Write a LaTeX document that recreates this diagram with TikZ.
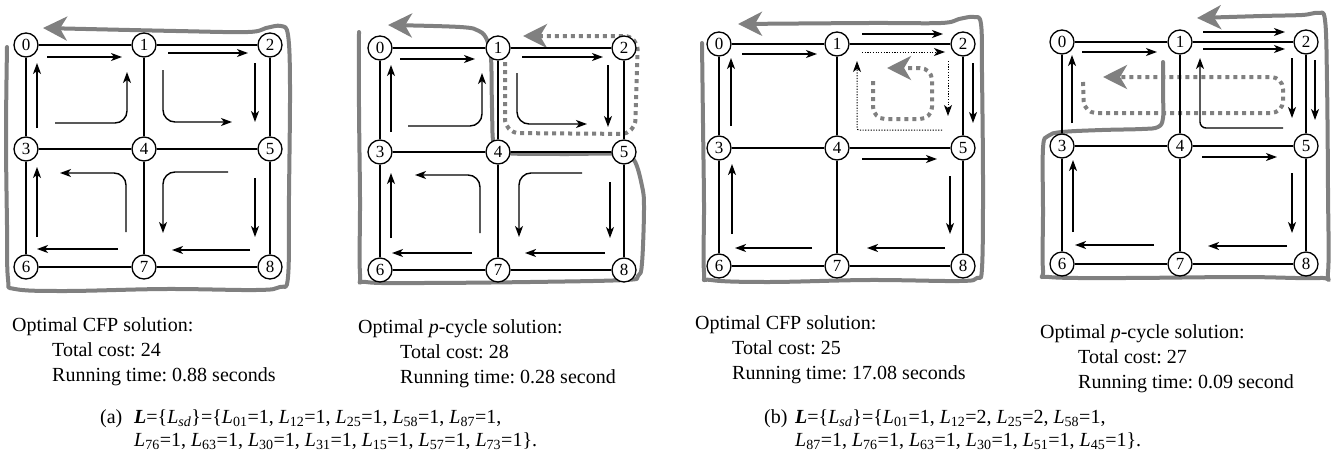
\documentclass[tikz,border=0pt]{standalone}
\usepackage{fontspec}
\setmainfont{Liberation Serif}
\usetikzlibrary{arrows.meta}
\frenchspacing

\newcommand{\Lv}[1]{\textit{L}\textsubscript{#1}}
% nine nodes and the twelve links of one grid, names #10 ... #18
\newcommand{\drawgrid}[1]{%
  \foreach \i/\px/\py in {0/0/0,1/118/0,2/244/0,3/0/104,4/118/104,5/244/104,6/0/222,7/118/222,8/244/222}
    \node[vertex] (#1\i) at (\px,\py) {\i};
  \foreach \ea/\eb in {0/1,1/2,3/4,4/5,6/7,7/8,0/3,3/6,1/4,4/7,2/5,5/8}
    \draw[gridedge] (#1\ea) -- (#1\eb);
}

\begin{document}
\begin{tikzpicture}[x=1pt,y=-1pt,
  vertex/.style={circle,draw,line width=1.3pt,fill=white,inner sep=0pt,minimum size=24pt,font=\fontsize{17}{17}\selectfont},
  gridedge/.style={line width=1.8pt},
  demand/.style={line width=1.4pt,-{Stealth[length=11pt,width=8pt,inset=3pt]}},
  demanddot/.style={demand,line width=1pt,dash pattern=on 1.2pt off 1.5pt},
  recov/.style={black!50,line width=4pt,line join=round,line cap=round,-{Stealth[length=24pt,width=24pt,inset=7pt]}},
  recovdot/.style={recov,line cap=butt,dash pattern=on 4pt off 4pt},
  info/.style={anchor=base west,inner sep=0pt,font=\fontsize{20}{24}\selectfont\frenchspacing}]
\useasboundingbox (0,0) rectangle (1337,455);

% (a) optimal CFP solution
\begin{scope}[shift={(26,45)}]
\draw[recov] plot[smooth,tension=0.6] coordinates {(-19,2) (-20,90) (-19,180) (-18,234) (-11,244) (40,246) (140,244) (230,245) (254,242) (262,232) (263,150) (264,40) (262,-10) (255,-19) (240,-17) (222,-13) (150,-14) (17,-17)};
\drawgrid{a}
\draw[demand] (21,12) -- (96,12);
\draw[demand] (11,83) -- (11,18);
\draw[demand,rounded corners=12pt] (29,78) -| (101,27);
\draw[demand] (142,8) -- (222,8);
\draw[demand,rounded corners=12pt] (137,25) |- (206,77);
\draw[demand] (229,18) -- (229,77);
\draw[demand,rounded corners=12pt] (100,187) |- (34,128);
\draw[demand] (11,192) -- (11,122);
\draw[demand] (92,204) -- (11,204);
\draw[demand,rounded corners=12pt] (202,127) -| (137,188);
\draw[demand] (229,133) -- (229,192);
\draw[demand] (224,205) -- (146,205);
\end{scope}

% (a) optimal p-cycle solution
\begin{scope}[shift={(380,48)}]
\draw[recov] plot[smooth,tension=0.6] coordinates {(-21,-16) (-21,60) (-20,150) (-20,226) (-14,234) (40,235) (150,234) (245,232) (258,228) (262,215) (264,160) (262,138) (254,112) (240,106) (180,106) (125,105) (114,98) (112,60) (111,10) (107,-8) (99,-17) (80,-21) (8,-23)};
\draw[recovdot,rounded corners=14pt] (125,14) -- (125,85) -- (255,86) -- (258,-12) -- (143,-12);
\drawgrid{b}
\draw[demand] (20,11) -- (95,11);
\draw[demand] (11,84) -- (11,17);
\draw[demand,rounded corners=12pt] (28,78) -| (102,25);
\draw[demand] (142,9) -- (223,9);
\draw[demand,rounded corners=12pt] (137,25) |- (207,76);
\draw[demand] (228,17) -- (228,79);
\draw[demand,rounded corners=12pt] (100,185) |- (35,127);
\draw[demand] (11,190) -- (11,125);
\draw[demand] (92,205) -- (12,205);
\draw[demand,rounded corners=12pt] (202,125) -| (139,189);
\draw[demand] (230,134) -- (230,190);
\draw[demand] (225,205) -- (145,205);
\end{scope}

% (b) optimal CFP solution
\begin{scope}[shift={(719,44)}]
\draw[recov] plot[smooth,tension=0.6] coordinates {(-17,-1) (-16,80) (-15,160) (-15,228) (-8,236) (50,238) (150,236) (240,237) (258,234) (263,224) (264,140) (263,30) (262,-20) (255,-27) (240,-25) (222,-21) (150,-21) (19,-20)};
\draw[recovdot,rounded corners=12pt] (154,37) -- (154,75) -- (213,75) -- (213,24) -- (168,24);
\drawgrid{c}
\draw[demand] (23,10) -- (98,10);
\draw[demand] (12,82) -- (12,14);
\draw[demand] (143,-10) -- (224,-10);
\draw[demanddot] (143,8) -- (226,8);
\draw[demanddot] (229,17) -- (229,72);
\draw[demanddot,rounded corners=2pt] (223,86) -| (138,17);
\draw[demand] (254,19) -- (254,79);
\draw[demand] (143,115) -- (218,115);
\draw[demand] (231,132) -- (231,190);
\draw[demand] (226,204) -- (148,204);
\draw[demand] (93,204) -- (16,204);
\draw[demand] (13,190) -- (13,120);
\end{scope}

% (b) optimal p-cycle solution
\begin{scope}[shift={(1062,42)}]
\draw[recov] plot[smooth,tension=0.6] coordinates {(101,20) (101,50) (101,76) (96,85) (80,87) (40,88) (0,90) (-14,94) (-19,106) (-19,170) (-19,228) (-13,235) (60,236) (180,235) (258,236) (266,230) (266,150) (265,40) (263,-22) (256,-29) (240,-27) (200,-26) (135,-24)};
\draw[recovdot,rounded corners=12pt] (21,40) -- (22,71) -- (221,71) -- (221,35) -- (41,35);
\drawgrid{d}
\draw[demand] (20,10) -- (95,10);
\draw[demand] (10,81) -- (10,13);
\draw[demand] (141,-10) -- (223,-10);
\draw[demand] (141,7) -- (223,7);
\draw[demand] (230,16) -- (230,76);
\draw[demand] (253,18) -- (253,78);
\draw[demand,rounded corners=6pt] (221,86) -| (138,16);
\draw[demand] (140,115) -- (215,115);
\draw[demand] (230,131) -- (230,191);
\draw[demand] (225,204) -- (146,204);
\draw[demand] (92,203) -- (13,203);
\draw[demand] (11,190) -- (11,118);
\end{scope}

% solution texts
\node[info] (ta1) at (12,331) {Optimal CFP solution:};
\node[info] (ta2) at (52,356) {Total cost: 24};
\node[info] (ta3) at (52,381) {Running time: 0.88 seconds};
\node[info] (tb1) at (358,333) {Optimal \textit{p}-cycle solution:};
\node[info] (tb2) at (400,358) {Total cost: 28};
\node[info] (tb3) at (400,383) {Running time: 0.28 second};
\node[info] (tc1) at (695,329) {Optimal CFP solution:};
\node[info] (tc2) at (732,354) {Total cost: 25};
\node[info] (tc3) at (732,379) {Running time: 17.08 seconds};
\node[info] (td1) at (1040,338) {Optimal \textit{p}-cycle solution:};
\node[info] (td2) at (1078,363) {Total cost: 27};
\node[info] (td3) at (1078,388) {Running time: 0.09 second};

% captions
\node[info] (la) at (100,423) {(a)};
\node[info] (la1) at (134,423) {\textbf{\textit{L}}=\{\Lv{\textit{sd}}\}=\{\Lv{01}=1, \Lv{12}=1, \Lv{25}=1, \Lv{58}=1, \Lv{87}=1,};
\node[info] (la2) at (134,446) {\Lv{76}=1, \Lv{63}=1, \Lv{30}=1, \Lv{31}=1, \Lv{15}=1, \Lv{57}=1, \Lv{73}=1\}.};
\node[info] (lb) at (764,423) {(b)};
\node[info] (lb1) at (795,423) {\textbf{\textit{L}}=\{\Lv{\textit{sd}}\}=\{\Lv{01}=1, \Lv{12}=2, \Lv{25}=2, \Lv{58}=1,};
\node[info] (lb2) at (795,446) {\Lv{87}=1, \Lv{76}=1, \Lv{63}=1, \Lv{30}=1, \Lv{51}=1, \Lv{45}=1\}.};
\end{tikzpicture}
\end{document}
